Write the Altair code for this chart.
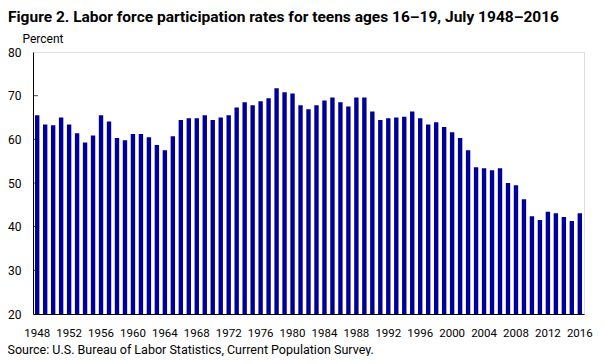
import altair as alt
import pandas as pd

years = list(range(1948, 2017))
rates = [
    65.5, 63.4, 63.2, 65.0, 63.4, 61.4, 59.3, 60.9, 65.5, 64.1, 60.3, 59.8,
    61.2, 61.2, 60.5, 58.7, 57.5, 60.7, 64.4, 64.8, 64.8, 65.5,
    64.4, 65.0, 65.5, 67.3, 68.5, 67.8, 68.7, 69.4, 71.7, 70.8, 70.5, 67.8,
    66.9, 67.8, 68.9, 69.6, 68.5, 67.5, 69.6, 69.6, 66.4, 64.4, 64.8, 65.0,
    65.2, 66.4, 64.8, 63.4, 63.9, 62.8, 61.6, 60.3, 57.5, 53.6, 53.4, 52.9,
    53.4, 50.0, 49.5, 46.3, 42.4, 41.5, 43.4, 43.1, 42.2, 41.3, 43.1,
]
x_label_years = list(range(1948, 2017, 4))
y_tick_values = [30, 40, 50, 60, 70]

FONT = "Roboto"
W, H = 551, 262

df = pd.DataFrame({"year": years, "rate": rates})
ticks_df = pd.DataFrame({"v": y_tick_values})

y_scale = alt.Scale(domain=[20, 80], nice=False, zero=False)

bars = alt.Chart(df).mark_bar(color="#000099", clip=True).encode(
    x=alt.X(
        "year:O",
        scale=alt.Scale(paddingInner=0.45, paddingOuter=0.25),
        axis=alt.Axis(
            values=x_label_years,
            labelAngle=0,
            ticks=False,
            tickSize=0,
            labelPadding=13,
            labelFontSize=11.5,
            labelFont=FONT,
            labelColor="black",
            domainColor="black",
            title="Source: U.S. Bureau of Labor Statistics, Current Population Survey.",
            titleX=-26,
            titleY=35,
            titleAlign="left",
            titleBaseline="middle",
            titleFontWeight="normal",
            titleFontSize=12.5,
            titleFont=FONT,
            titleColor="black",
        ),
    ),
    y=alt.Y(
        "rate:Q",
        scale=y_scale,
        axis=alt.Axis(
            values=[20, 30, 40, 50, 60, 70, 80],
            ticks=False,
            tickSize=0,
            grid=False,
            labelPadding=12,
            labelFontSize=12,
            labelFont=FONT,
            labelColor="black",
            domainColor="black",
            title="Percent",
            titleAngle=0,
            titleX=-11,
            titleY=-14,
            titleAlign="left",
            titleBaseline="middle",
            titleFontWeight="normal",
            titleFontSize=12,
            titleFont=FONT,
            titleColor="black",
        ),
    ),
)

inner_ticks = alt.Chart(ticks_df).mark_tick(
    color="black", thickness=1, size=5, orient="horizontal", xOffset=2.5
).encode(
    y=alt.Y("v:Q", scale=y_scale),
    x=alt.value(0),
)

chart = (
    alt.layer(bars, inner_ticks)
    .properties(
        width=W,
        height=H,
        autosize=alt.AutoSizeParams(type="none"),
        padding={"left": 25, "top": 44, "right": 12, "bottom": 42},
        title=alt.TitleParams(
            "Figure 2. Labor force participation rates for teens ages 16–19, July 1948–2016",
            anchor="start",
            frame="group",
            dx=-25,
            offset=7,
            fontSize=15.5,
            fontWeight="bold",
            font=FONT,
            color="black",
        ),
    )
    .configure_view(stroke="black", strokeWidth=1)
    .configure(background="white")
)

chart.save("out.html", embed_options={"renderer": "svg", "actions": False})
